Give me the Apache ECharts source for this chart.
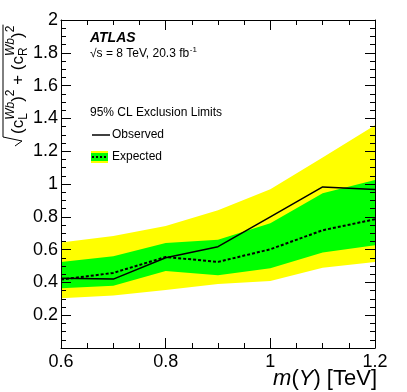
<!DOCTYPE html>
<html lang="en">
  <head>
    <meta charset="UTF-8" />
    <title>ATLAS exclusion limits</title>
    <script src="https://cdn.jsdelivr.net/npm/echarts@6/dist/echarts.min.js"></script>
    <style>
      html, body { margin: 0; padding: 0; background: #fff; }
      #main { width: 407px; height: 392px; }
    </style>
  </head>
  <body>
    <div id="main"></div>

    <script>
      // masses in TeV and the limits
      var massTeV = [0.6, 0.7, 0.8, 0.9, 1.0, 1.1, 1.2];
      var observed = [0.425, 0.42, 0.55, 0.618, 0.8, 0.982, 0.966];
      var expected = [0.417, 0.458, 0.555, 0.525, 0.602, 0.718, 0.785];
      var band68Low = [0.364, 0.379, 0.47, 0.444, 0.486, 0.582, 0.627];
      var band68High = [0.525, 0.56, 0.64, 0.66, 0.761, 0.944, 1.025];
      var band95Low = [0.303, 0.32, 0.354, 0.39, 0.409, 0.49, 0.525];
      var band95High = [0.643, 0.683, 0.744, 0.84, 0.968, 1.161, 1.358];

      var FONT = '"Liberation Sans", Arial, Helvetica, sans-serif';
      var chart = echarts.init(document.getElementById("main"));

      // band drawn as one polygon through the axes
      function band(low, high, color) {
        return {
          type: "custom",
          silent: true,
          z: 1,
          data: massTeV.map(function (m, i) { return [m, low[i], high[i]]; }),
          encode: { x: 0, y: [1, 2] },
          renderItem: function (params, api) {
            if (params.dataIndex !== 0) return null;
            var pts = [];
            for (var i = 0; i < massTeV.length; i++) pts.push(api.coord([massTeV[i], high[i]]));
            for (var j = massTeV.length - 1; j >= 0; j--) pts.push(api.coord([massTeV[j], low[j]]));
            return { type: "polygon", shape: { points: pts }, style: { fill: color } };
          },
        };
      }

      // y title: sqrt((c_L^Wb)^2 + (c_R^Wb)^2), laid out bottom -> top
      var ctx = document.createElement("canvas").getContext("2d");
      function textW(t, size, italic) {
        ctx.font = (italic ? "italic " : "") + size + "px " + FONT;
        return ctx.measureText(t).width;
      }
      var MAIN = 17, SCR = 12;
      var xMain = 18, xSup = 11, xSub = 24;
      var titleEls = [];
      var cur = 134;
      function put(t, x, size, italic) {
        titleEls.push({
          type: "text", x: x, y: cur, rotation: Math.PI / 2, silent: true,
          style: { text: t, fontSize: size, fontFamily: FONT, fontStyle: italic ? "italic" : "normal",
                   fill: "#000", align: "left", verticalAlign: "middle" },
        });
      }
      function main(t) { put(t, xMain, MAIN, false); cur -= textW(t, MAIN, false); }
      function sup(t, italic) { put(t, xSup, SCR, italic); cur -= textW(t, SCR, italic); }
      function supSub(s, b) {
        put(s, xSup, SCR, true);
        put(b, xSub, SCR, false);
        cur -= Math.max(textW(s, SCR, true), textW(b, SCR, false));
      }
      main("(c"); supSub("Wb", "L"); main(")"); sup("2"); main(" + ");
      main("(c"); supSub("Wb", "R"); main(")"); sup("2");
      titleEls.push({
        type: "polyline", silent: true,
        shape: { points: [[3, cur - 1], [3, 137], [22, 141], [15, 146]] },
        style: { stroke: "#000", lineWidth: 1, fill: null },
      });

      var graphics = titleEls.concat([
        { type: "text", x: 90, y: 38, silent: true,
          style: { text: "ATLAS", fontSize: 14, fontWeight: "bold", fontStyle: "italic", fontFamily: FONT,
                   fill: "#000", verticalAlign: "middle" } },
        { type: "text", x: 90, y: 54, silent: true,
          style: { text: "\u221As = 8 TeV, 20.3 fb", fontSize: 12, fontFamily: FONT, fill: "#000", verticalAlign: "middle" } },
        { type: "text", x: 90 + textW("\u221As = 8 TeV, 20.3 fb", 12, false) + 0.5, y: 50, silent: true,
          style: { text: "-1", fontSize: 8, fontFamily: FONT, fill: "#000", verticalAlign: "middle" } },
        { type: "text", x: 90, y: 113, silent: true,
          style: { text: "95% CL Exclusion Limits", fontSize: 12, fontFamily: FONT, fill: "#000", verticalAlign: "middle" } },
        { type: "line", silent: true, shape: { x1: 92, y1: 135, x2: 110, y2: 135 },
          style: { stroke: "#000", lineWidth: 1.5 } },
        { type: "text", x: 112, y: 135, silent: true,
          style: { text: "Observed", fontSize: 12, fontFamily: FONT, fill: "#000", verticalAlign: "middle" } },
        { type: "rect", silent: true, shape: { x: 91, y: 151, width: 17, height: 12 }, style: { fill: "#ffff00" } },
        { type: "rect", silent: true, shape: { x: 91, y: 153, width: 17, height: 8 }, style: { fill: "#00ff00" } },
        { type: "line", silent: true, shape: { x1: 92, y1: 157, x2: 108, y2: 157 },
          style: { stroke: "#000", lineWidth: 2, lineDash: [2, 2] } },
        { type: "text", x: 112, y: 157, silent: true,
          style: { text: "Expected", fontSize: 12, fontFamily: FONT, fill: "#000", verticalAlign: "middle" } },
        { type: "text", x: 377, y: 379, silent: true,
          style: { text: "{i|m}({i|Y}) [TeV]", fontSize: 22, fontFamily: FONT, fill: "#000",
                   align: "right", verticalAlign: "middle",
                   rich: { i: { fontSize: 22, fontFamily: FONT, fontStyle: "italic", fill: "#000" } } } },
      ]);

      function xAx(pos, labels) {
        return {
          type: "value", position: pos, min: 0.6, max: 1.2, interval: 0.2, z: 5,
          axisLine: { show: true, onZero: false, lineStyle: { color: "#000", width: 1 } },
          axisTick: { show: true, inside: true, length: 10, lineStyle: { color: "#000" } },
          minorTick: { show: true, splitNumber: 4, length: 5, lineStyle: { color: "#000" } },
          splitLine: { show: false },
          axisLabel: { show: labels, color: "#000", fontSize: 18, fontFamily: FONT, margin: 5 },
        };
      }
      function yAx(pos, labels) {
        return {
          type: "value", position: pos, min: 0, max: 2, interval: 0.2, z: 5,
          axisLine: { show: true, onZero: false, lineStyle: { color: "#000", width: 1 } },
          axisTick: { show: true, inside: true, length: 10, lineStyle: { color: "#000" } },
          minorTick: { show: true, splitNumber: 4, length: 5, lineStyle: { color: "#000" } },
          splitLine: { show: false },
          axisLabel: { show: labels, showMinLabel: false, color: "#000", fontSize: 18, fontFamily: FONT, margin: 3 },
        };
      }

      var option = {
        animation: false,
        backgroundColor: "#fff",
        grid: { left: 61, right: 32, top: 20, bottom: 44, containLabel: false },
        xAxis: [xAx("bottom", true), xAx("top", false)],
        yAxis: [yAx("left", true), yAx("right", false)],
        series: [
          band(band95Low, band95High, "#ffff00"),
          band(band68Low, band68High, "#00ff00"),
          {
            type: "line", name: "Expected", z: 3, showSymbol: false, symbol: "none",
            data: massTeV.map(function (m, i) { return [m, expected[i]]; }),
            lineStyle: { color: "#000", width: 2, type: [3, 2] },
          },
          {
            type: "line", name: "Observed", z: 4, showSymbol: false, symbol: "none",
            data: massTeV.map(function (m, i) { return [m, observed[i]]; }),
            lineStyle: { color: "#000", width: 1.5 },
          },
        ],
        graphic: { elements: graphics },
      };

      chart.setOption(option);
    </script>
  </body>
</html>
